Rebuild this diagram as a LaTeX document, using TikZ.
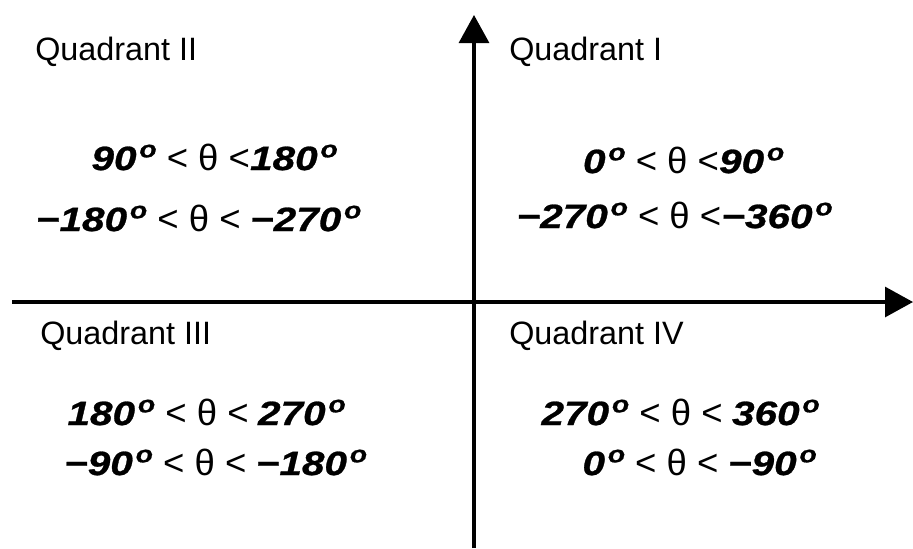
\documentclass[tikz,border=0pt]{standalone}
\usepackage{fontspec}
\setmainfont{Liberation Sans}
\newfontfamily\anglefont[FakeStretch = 1.2, FakeBold = 0.8]{Liberation Sans}
\usetikzlibrary{arrows.meta,positioning}
\tikzset{axis/.style = {line width = 2.2pt, -{Triangle[width = 0.75cm, length = 0.7cm]}},
         quad/.style = {anchor = west, inner sep = 0pt, font = \fontsize{23}{27}\selectfont},
         anglerange/.style = {inner sep = 0pt, font = \fontsize{24}{28}\selectfont},
}
\newcommand{\degval}[1]{{\anglefont\bfseries\itshape #1\kern2pt\textsuperscript{o}}}
\newcommand{\rel}[1]{{\fontsize{26}{28}\selectfont #1}}

\begin{document}
\begin{tikzpicture}[x = 0.025cm, y = -0.025cm]

  \useasboundingbox (0,0) rectangle (913,548);

  % axes
  \coordinate (xs) at (12,302);
  \coordinate (xe) at (913,302);
  \coordinate (ys) at (474,548);
  \coordinate (ye) at (474,15);
  \draw[axis] (xs) -- (xe);
  \draw[axis] (ys) -- (ye);

  % quadrant names
  \node[quad] at (35,52) (qII) {Quadrant II};
  \node[quad] at (509,52) (qI) {Quadrant I};
  \node[quad] at (40,336) (qIII) {Quadrant III};
  \node[quad] at (509,336) (qIV) {Quadrant IV};

  % angle ranges
  \node[anglerange] at (215,157) (rIIa) {\degval{90} \rel{< θ <}\degval{180}};
  \node[anglerange] at (199,218) (rIIb) {\degval{−180} \rel{< θ <} \degval{−270}};
  \node[anglerange] at (684,160) (rIa) {\degval{0} \rel{< θ <}\degval{90}};
  \node[anglerange] at (675,215) (rIb) {\degval{−270} \rel{< θ <}\degval{−360}};
  \node[anglerange] at (207,412) (rIIIa) {\degval{180} \rel{< θ <} \degval{270}};
  \node[anglerange] at (216,462) (rIIIb) {\degval{−90} \rel{< θ <} \degval{−180}};
  \node[anglerange] at (681,412) (rIVa) {\degval{270} \rel{< θ <} \degval{360}};
  \node[anglerange] at (700,462) (rIVb) {\degval{0} \rel{< θ <} \degval{−90}};

\end{tikzpicture}
\end{document}
